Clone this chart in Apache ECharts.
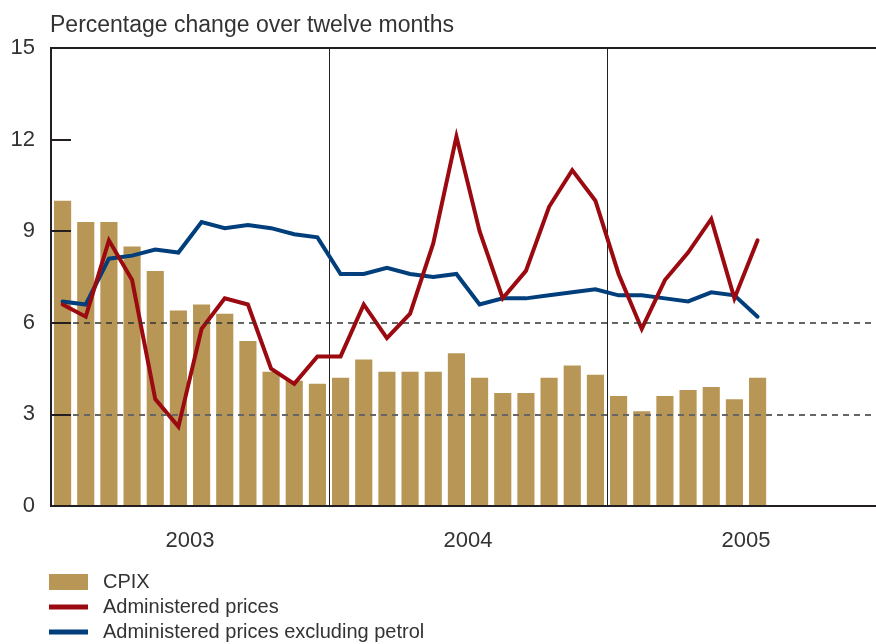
<!DOCTYPE html>
<html>
<head>
<meta charset="utf-8">
<title>CPIX and administered prices</title>
<script src="https://cdn.jsdelivr.net/npm/echarts@6/dist/echarts.min.js"></script>
<style>
  html, body { margin: 0; padding: 0; background: #fff; }
  #chart { width: 876px; height: 644px; }
</style>
</head>
<body>
<div id="chart"></div>
<script>
// 月份（2003-01 到 2005-12）
const months = [
  '2003-01', '2003-02', '2003-03', '2003-04', '2003-05', '2003-06',
  '2003-07', '2003-08', '2003-09', '2003-10', '2003-11', '2003-12',
  '2004-01', '2004-02', '2004-03', '2004-04', '2004-05', '2004-06',
  '2004-07', '2004-08', '2004-09', '2004-10', '2004-11', '2004-12',
  '2005-01', '2005-02', '2005-03', '2005-04', '2005-05', '2005-06',
  '2005-07', '2005-08', '2005-09', '2005-10', '2005-11', '2005-12'
];
const years = ['2003', '2004', '2005'];

// CPIX
const cpix = [
  10.0, 9.3, 9.3, 8.5, 7.7, 6.4, 6.6, 6.3, 5.4, 4.4, 4.1, 4.0,
  4.2, 4.8, 4.4, 4.4, 4.4, 5.0, 4.2, 3.7, 3.7, 4.2, 4.6, 4.3,
  3.6, 3.1, 3.6, 3.8, 3.9, 3.5, 4.2
];
// Administered prices
const administered = [
  6.6, 6.2, 8.7, 7.4, 3.5, 2.6, 5.8, 6.8, 6.6, 4.5, 4.0, 4.9,
  4.9, 6.6, 5.5, 6.3, 8.6, 12.1, 9.0, 6.8, 7.7, 9.8, 11.0, 10.0,
  7.6, 5.8, 7.4, 8.3, 9.4, 6.8, 8.7
];
// Administered prices excluding petrol
const exPetrol = [
  6.7, 6.6, 8.1, 8.2, 8.4, 8.3, 9.3, 9.1, 9.2, 9.1, 8.9, 8.8,
  7.6, 7.6, 7.8, 7.6, 7.5, 7.6, 6.6, 6.8, 6.8, 6.9, 7.0, 7.1,
  6.9, 6.9, 6.8, 6.7, 7.0, 6.9, 6.2
];
// 虚线参考线
const refLines = [3, 6];

const FONT = 'Liberation Sans, Arial, sans-serif';
const TEXT_COLOR = '#333';
const AXIS_COLOR = '#231f20';
const GOLD = '#b89756';
const RED = '#9b0a10';
const BLUE = '#003f7c';
// 两条虚线的样式（3 和 6）
const REF_STYLES = [
  { color: '#666', width: 2, type: [6, 5] },
  { color: '#333', width: 1.5, type: [6, 5] }
];

const option = {
  animation: false,
  textStyle: { fontFamily: FONT },
  title: {
    text: 'Percentage change over twelve months',
    left: 45,
    top: 9,
    textStyle: { fontSize: 23, fontWeight: 'normal', color: TEXT_COLOR, fontFamily: FONT }
  },
  legend: {
    orient: 'vertical',
    left: 49,
    top: 572,
    height: 100,
    padding: 0,
    itemWidth: 39,
    itemHeight: 16,
    itemGap: 5,
    itemStyle: { borderWidth: 0 },
    textStyle: { fontSize: 20, color: TEXT_COLOR, fontFamily: FONT, padding: [0, 0, 0, 10] },
    data: [
      { name: 'CPIX', icon: 'rect' },
      { name: 'Administered prices', icon: 'path://M0,0H39V5H0Z' },
      { name: 'Administered prices excluding petrol', icon: 'path://M0,0H39V5H0Z' }
    ]
  },
  // 绘图区右侧超出画布（原图被裁切）
  grid: {
    left: 51,
    right: -9,
    top: 48,
    bottom: 138,
    outerBoundsMode: 'none',
    show: true,
    borderWidth: 2,
    borderColor: AXIS_COLOR,
    backgroundColor: 'transparent'
  },
  xAxis: [
    {
      type: 'category',
      data: months,
      boundaryGap: true,
      zlevel: 1,
      axisLine: { show: true, lineStyle: { color: AXIS_COLOR, width: 2 } },
      axisTick: { show: false },
      axisLabel: { show: false },
      splitLine: { show: false }
    },
    {
      type: 'category',
      position: 'bottom',
      data: years,
      boundaryGap: true,
      axisLine: { show: false },
      axisTick: { show: false },
      axisLabel: { interval: 0, fontSize: 22, color: TEXT_COLOR, margin: 24, fontFamily: FONT },
      splitLine: { show: true, interval: 0, lineStyle: { color: AXIS_COLOR, width: 1 } }
    }
  ],
  yAxis: {
    type: 'value',
    min: 0,
    max: 15,
    interval: 3,
    zlevel: 1,
    axisLine: { show: true, lineStyle: { color: AXIS_COLOR, width: 2 } },
    axisTick: { show: true, inside: true, length: 20, lineStyle: { color: AXIS_COLOR, width: 2 } },
    axisLabel: { fontSize: 22, color: TEXT_COLOR, margin: 16, fontFamily: FONT },
    splitLine: { show: false }
  },
  series: [
    {
      name: 'CPIX',
      type: 'bar',
      xAxisIndex: 0,
      data: cpix,
      barWidth: '74%',
      itemStyle: { color: GOLD },
      markLine: {
        silent: true,
        symbol: ['none', 'none'],
        label: { show: false },
        data: refLines.map((v, i) => ({ yAxis: v, lineStyle: REF_STYLES[i] }))
      }
    },
    {
      name: 'Administered prices excluding petrol',
      type: 'line',
      xAxisIndex: 0,
      data: exPetrol,
      symbol: 'none',
      lineStyle: { color: BLUE, width: 4, join: 'miter', cap: 'round' },
      itemStyle: { color: BLUE },
      z: 3
    },
    {
      name: 'Administered prices',
      type: 'line',
      xAxisIndex: 0,
      data: administered,
      symbol: 'none',
      lineStyle: { color: RED, width: 4, join: 'miter', cap: 'round' },
      itemStyle: { color: RED },
      z: 4
    }
  ]
};

const myChart = echarts.init(document.getElementById('chart'));
myChart.setOption(option);
</script>
</body>
</html>
